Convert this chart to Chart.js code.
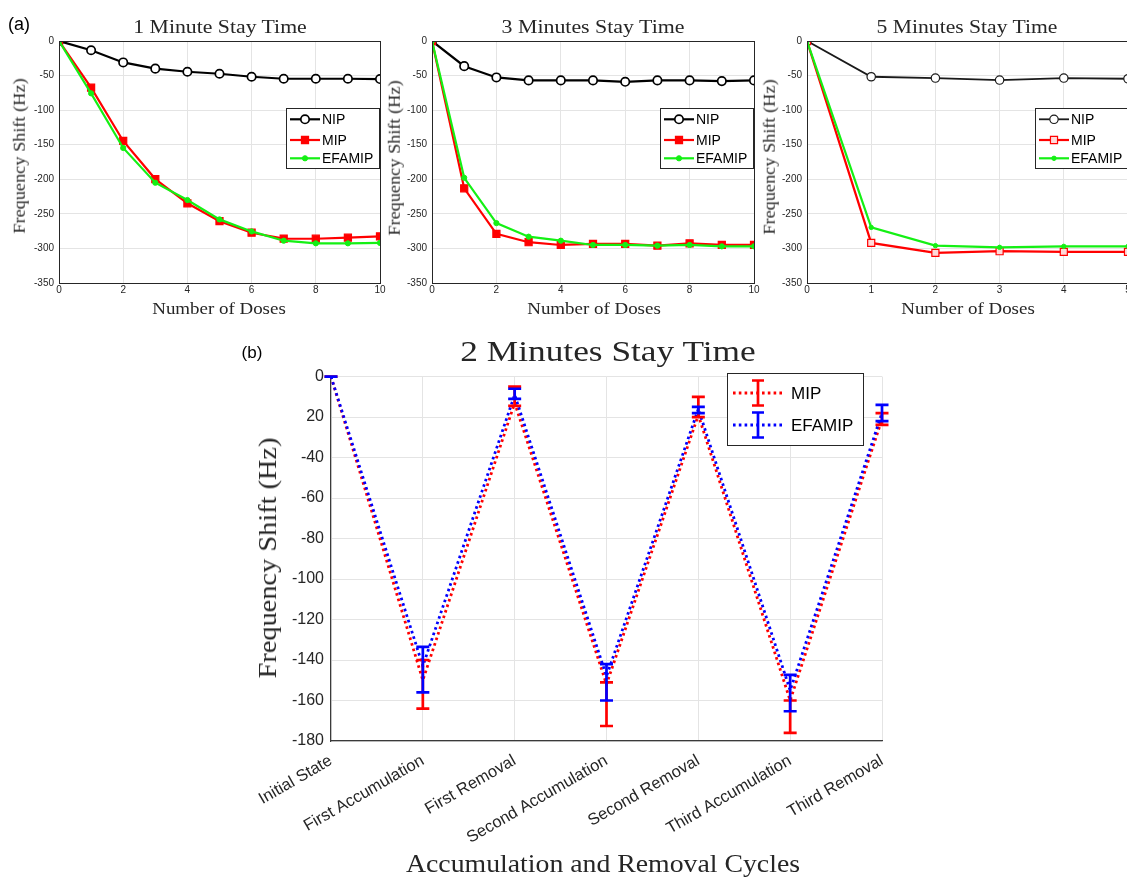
<!DOCTYPE html>
<html>
<head>
<meta charset="utf-8">
<title>Frequency shift vs doses and cycles</title>
<script src="https://cdn.jsdelivr.net/npm/chart.js@4.4.1/dist/chart.umd.min.js"></script>
<style>
  html, body { margin: 0; padding: 0; background: #fff; }
  body { position: relative; width: 1127px; height: 881px; overflow: hidden; }
  canvas { position: absolute; }
  .t { position: absolute; white-space: nowrap; line-height: 1; color: #262626; transform: translate(-50%, -50%); }
  .serif { font-family: "Liberation Serif", "DejaVu Serif", serif; }
  .sans { font-family: "Liberation Sans", Arial, sans-serif; color: #000; }
</style>
</head>
<body>
<canvas id="p1" width="392" height="272" style="left:0;top:30px"></canvas>
<canvas id="p3" width="370" height="272" style="left:400px;top:30px"></canvas>
<canvas id="p5" width="367" height="272" style="left:775px;top:30px"></canvas>
<canvas id="cyc" width="670" height="490" style="left:240px;top:360px"></canvas>

<div class="t sans" style="left:19px;top:24px;font-size:18px">(a)</div>
<div class="t serif" data-w="174" style="left:220px;top:26px;font-size:19px">1 Minute Stay Time</div>
<div class="t serif" data-w="183" style="left:593px;top:26px;font-size:19px">3 Minutes Stay Time</div>
<div class="t serif" data-w="181" style="left:967px;top:26px;font-size:19px">5 Minutes Stay Time</div>
<div class="t serif" data-w="133" style="left:219px;top:309px;font-size:16.5px">Number of Doses</div>
<div class="t serif" data-w="133" style="left:594px;top:309px;font-size:16.5px">Number of Doses</div>
<div class="t serif" data-w="133" style="left:968px;top:309px;font-size:16.5px">Number of Doses</div>
<div class="t serif" data-w="155" data-rot="1" style="left:20px;top:156px;font-size:16.5px">Frequency Shift (Hz)</div>
<div class="t serif" data-w="155" data-rot="1" style="left:395px;top:158px;font-size:16.5px">Frequency Shift (Hz)</div>
<div class="t serif" data-w="155" data-rot="1" style="left:770px;top:157px;font-size:16.5px">Frequency Shift (Hz)</div>

<div class="t sans" style="left:252px;top:352px;font-size:17px">(b)</div>
<div class="t serif" data-w="296" style="left:608px;top:351px;font-size:29px">2 Minutes Stay Time</div>
<div class="t serif" data-w="394" style="left:603px;top:864px;font-size:26px">Accumulation and Removal Cycles</div>
<div class="t serif" data-w="241" data-rot="1" style="left:268px;top:558px;font-size:26px">Frequency Shift (Hz)</div>

<script>
// (a) frequency shift per dose, three stay times
const doses10 = [0, 1, 2, 3, 4, 5, 6, 7, 8, 9, 10];
const doses5 = [0, 1, 2, 3, 4, 5];

const nip1 = [0, -13.4, -31, -40, -44.5, -47.4, -51.7, -54.6, -54.6, -54.6, -55];
const mip1 = [0, -67.5, -144.6, -199.7, -234.7, -260.6, -277.3, -285.9, -286, -284.5, -282.6];
const efamip1 = [0, -75.7, -154.7, -205, -230, -258, -275.4, -288.8, -292.6, -292.6, -292];

const nip3 = [0, -36.4, -52.7, -57, -57, -57, -59, -57, -57, -58, -57];
const mip3 = [0, -213, -279, -291, -295, -293.5, -293.5, -296, -292.6, -295, -295];
const efamip3 = [0, -197.8, -263.4, -283, -288.8, -295, -295, -296, -295, -297, -297];

const nip5 = [0, -51.7, -53.6, -56.5, -53.6, -54.6];
const mip5 = [0, -292, -306.5, -304, -305, -305];
const efamip5 = [0, -269.6, -296, -298.4, -297, -297];

// (b) accumulation / removal cycles, 2 min stay time
const cycles = ['Initial State', 'First Accumulation', 'First Removal', 'Second Accumulation',
  'Second Removal', 'Third Accumulation', 'Third Removal'];
const mipMean = [0, -150, -13, -152, -19, -160, -21];
const mipLow = [0, -164, -14.5, -172.6, -20, -176, -23.8];
const mipHigh = [0, -140, -5, -151, -10, -160, -18];
const efaMean = [0, -143, -9, -148, -16, -155, -18];
const efaLow = [0, -156, -11, -160, -18, -165.3, -22];
const efaHigh = [0, -133.5, -6, -142, -15, -147.3, -14];

const cycleTicks = [-180, -160, -140, -120, -100, -80, -60, -40, -20, 0];
const cycleTickLabels = ['-180', '-160', '-140', '-120', '-100', '-80', '-60', '-40', '20', '0'];

const AXIS = '#262626';
const GRID = '#e4e4e4';
const SANS = '"Liberation Sans", Arial, sans-serif';

// stretch serif labels to the widths measured on the figure
document.querySelectorAll('[data-w]').forEach(el => {
  const k = el.dataset.w / el.offsetWidth;
  const rot = el.dataset.rot ? ' rotate(-90deg)' : '';
  el.style.transform = 'translate(-50%, -50%)' + rot + ' scaleX(' + k.toFixed(3) + ')';
});

// box around the plot area (top panels)
const framePlugin = {
  id: 'frame',
  afterDatasetsDraw(chart, args, opts) {
    if (!opts.color) return;
    const { ctx, chartArea: a } = chart;
    ctx.save();
    ctx.strokeStyle = opts.color;
    ctx.lineWidth = 1;
    ctx.strokeRect(Math.round(a.left) + 0.5, Math.round(a.top) + 0.5, Math.round(a.width), Math.round(a.height));
    ctx.restore();
  }
};

// vertical error bars from errLow / errHigh on each dataset
const errorBarPlugin = {
  id: 'errorBars',
  afterDatasetsDraw(chart, args, opts) {
    if (!opts.cap) return;
    const { ctx, scales: { x, y } } = chart;
    chart.data.datasets.forEach(ds => {
      if (!ds.errLow) return;
      ctx.save();
      ctx.strokeStyle = ds.borderColor;
      ctx.lineWidth = opts.width;
      ds.data.forEach((v, j) => {
        const px = x.getPixelForValue(j);
        const lo = y.getPixelForValue(ds.errLow[j]);
        const hi = y.getPixelForValue(ds.errHigh[j]);
        ctx.beginPath();
        ctx.moveTo(px, lo); ctx.lineTo(px, hi);
        ctx.moveTo(px - opts.cap, lo); ctx.lineTo(px + opts.cap, lo);
        ctx.moveTo(px - opts.cap, hi); ctx.lineTo(px + opts.cap, hi);
        ctx.stroke();
      });
      ctx.restore();
    });
  }
};

// legend box drawn inside the plot, like the MATLAB one
const boxLegend = {
  id: 'boxLegend',
  afterDraw(chart, args, o) {
    if (!o.rows) return;
    const ctx = chart.ctx;
    ctx.save();
    ctx.fillStyle = '#fff';
    ctx.fillRect(o.left, o.top, o.width, o.height);
    ctx.strokeStyle = AXIS;
    ctx.lineWidth = 1;
    ctx.strokeRect(o.left + 0.5, o.top + 0.5, o.width, o.height);
    ctx.font = o.font;
    ctx.textBaseline = 'middle';
    chart.data.datasets.forEach((ds, i) => {
      const y = o.rows[i];
      const mid = (o.x0 + o.x1) / 2;
      ctx.strokeStyle = ds.borderColor;
      ctx.lineWidth = ds.borderWidth;
      ctx.setLineDash(ds.borderDash || []);
      ctx.beginPath(); ctx.moveTo(o.x0, y); ctx.lineTo(o.x1, y); ctx.stroke();
      ctx.setLineDash([]);
      if (ds.errLow) {
        ctx.lineWidth = o.barWidth;
        ctx.beginPath();
        ctx.moveTo(mid, y - o.bar); ctx.lineTo(mid, y + o.bar);
        ctx.moveTo(mid - o.cap, y - o.bar); ctx.lineTo(mid + o.cap, y - o.bar);
        ctx.moveTo(mid - o.cap, y + o.bar); ctx.lineTo(mid + o.cap, y + o.bar);
        ctx.stroke();
      } else {
        ctx.fillStyle = ds.pointBackgroundColor;
        ctx.strokeStyle = ds.pointBorderColor;
        ctx.lineWidth = ds.pointBorderWidth;
        Chart.helpers.drawPoint(ctx, {
          pointStyle: ds.pointStyle, rotation: 0, radius: ds.pointRadius, borderWidth: ds.pointBorderWidth
        }, mid, y);
      }
      ctx.fillStyle = '#000';
      ctx.fillText(ds.label, o.textX, y + 1);
    });
    ctx.restore();
  }
};

Chart.register(framePlugin, errorBarPlugin, boxLegend);

function dosePanel(id, doses, nip, mip, efamip, opt) {
  const pts = vals => doses.map((d, i) => ({ x: d, y: vals[i] }));
  const thin = opt.thin;
  return new Chart(document.getElementById(id), {
    type: 'line',
    data: {
      datasets: [
        {
          label: 'NIP', data: pts(nip), order: 2,
          borderColor: thin ? '#1a1a1a' : '#000', borderWidth: thin ? 1.8 : 2.2,
          pointStyle: 'circle', pointRadius: 4.2, pointBorderWidth: thin ? 1.2 : 1.7,
          pointBackgroundColor: '#fff', pointBorderColor: thin ? '#1a1a1a' : '#000'
        },
        {
          label: 'MIP', data: pts(mip), order: 1,
          borderColor: '#ff0000', borderWidth: 2.2,
          pointStyle: 'rect', pointRadius: 5, pointBorderWidth: 1.2,
          pointBackgroundColor: thin ? '#ffd9d9' : '#ff0000', pointBorderColor: '#ff0000'
        },
        {
          label: 'EFAMIP', data: pts(efamip), order: 0,
          borderColor: '#14f014', borderWidth: 2.2,
          pointStyle: 'circle', pointRadius: thin ? 2.2 : 2.6, pointBorderWidth: 1,
          pointBackgroundColor: '#14f014', pointBorderColor: '#14f014'
        }
      ]
    },
    options: {
      responsive: false,
      animation: false,
      events: [],
      elements: { line: { tension: 0 } },
      layout: { padding: { left: 0, top: 9, right: opt.padRight, bottom: 0 } },
      plugins: {
        legend: { display: false },
        tooltip: { enabled: false },
        frame: { color: AXIS },
        boxLegend: {
          left: opt.legLeft, top: 78, width: opt.legWidth, height: 60,
          rows: [89.3, 110, 128.3], x0: opt.legLeft + 4, x1: opt.legLeft + 34, textX: opt.legLeft + 36,
          font: '14px ' + SANS
        }
      },
      scales: {
        x: {
          type: 'linear', min: 0, max: doses[doses.length - 1],
          ticks: { stepSize: opt.xStep, font: { family: SANS, size: 10 }, color: AXIS, padding: 1, maxRotation: 0 },
          grid: { color: GRID, drawTicks: false },
          border: { display: false },
          afterFit: s => { s.height = 19; }
        },
        y: {
          min: -350, max: 0,
          ticks: { stepSize: 50, font: { family: SANS, size: 10 }, color: AXIS, padding: 5 },
          grid: { color: GRID, drawTicks: false },
          border: { display: false },
          afterFit: s => { s.width = opt.yWidth; }
        }
      }
    }
  });
}

dosePanel('p1', doses10, nip1, mip1, efamip1, { xStep: 2, yWidth: 59, padRight: 12, legLeft: 286, legWidth: 93 });
dosePanel('p3', doses10, nip3, mip3, efamip3, { xStep: 2, yWidth: 32, padRight: 16, legLeft: 260, legWidth: 93 });
dosePanel('p5', doses5, nip5, mip5, efamip5, { xStep: 1, yWidth: 32, padRight: 14, legLeft: 260, legWidth: 100, thin: true });

new Chart(document.getElementById('cyc'), {
  type: 'line',
  data: {
    labels: cycles,
    datasets: [
      {
        label: 'MIP', data: mipMean, errLow: mipLow, errHigh: mipHigh, order: 1,
        borderColor: '#ff0000', borderWidth: 2.8, borderDash: [2.6, 3.2], pointRadius: 0
      },
      {
        label: 'EFAMIP', data: efaMean, errLow: efaLow, errHigh: efaHigh, order: 0,
        borderColor: '#0000ff', borderWidth: 2.8, borderDash: [2.6, 3.2], pointRadius: 0
      }
    ]
  },
  options: {
    responsive: false,
    animation: false,
    events: [],
    elements: { line: { tension: 0 } },
    layout: { padding: { left: 0, top: 12, right: 28, bottom: 0 } },
    plugins: {
      legend: { display: false },
      tooltip: { enabled: false },
      errorBars: { cap: 6.5, width: 2.7 },
      boxLegend: {
        left: 487, top: 13, width: 136, height: 72,
        rows: [33, 65], x0: 493, x1: 543, textX: 551,
        bar: 12.5, cap: 6, barWidth: 2.7,
        font: '17px ' + SANS
      }
    },
    scales: {
      x: {
        offset: false,
        ticks: {
          font: { family: SANS, size: 16.5 }, color: AXIS, padding: 10,
          minRotation: 30, maxRotation: 30, autoSkip: false
        },
        grid: { color: GRID, drawTicks: false, offset: false },
        border: { color: '#3a3a3a', width: 1.2 },
        afterFit: s => { s.height = 109; }
      },
      y: {
        min: -180, max: 0,
        afterBuildTicks: s => { s.ticks = cycleTicks.map(v => ({ value: v })); },
        ticks: {
          font: { family: SANS, size: 16 }, color: AXIS, padding: 7,
          callback: v => cycleTickLabels[cycleTicks.indexOf(v)]
        },
        grid: { color: GRID, drawTicks: false },
        border: { color: '#3a3a3a', width: 1.2 },
        afterFit: s => { s.width = 91; }
      }
    }
  }
});
</script>
</body>
</html>
